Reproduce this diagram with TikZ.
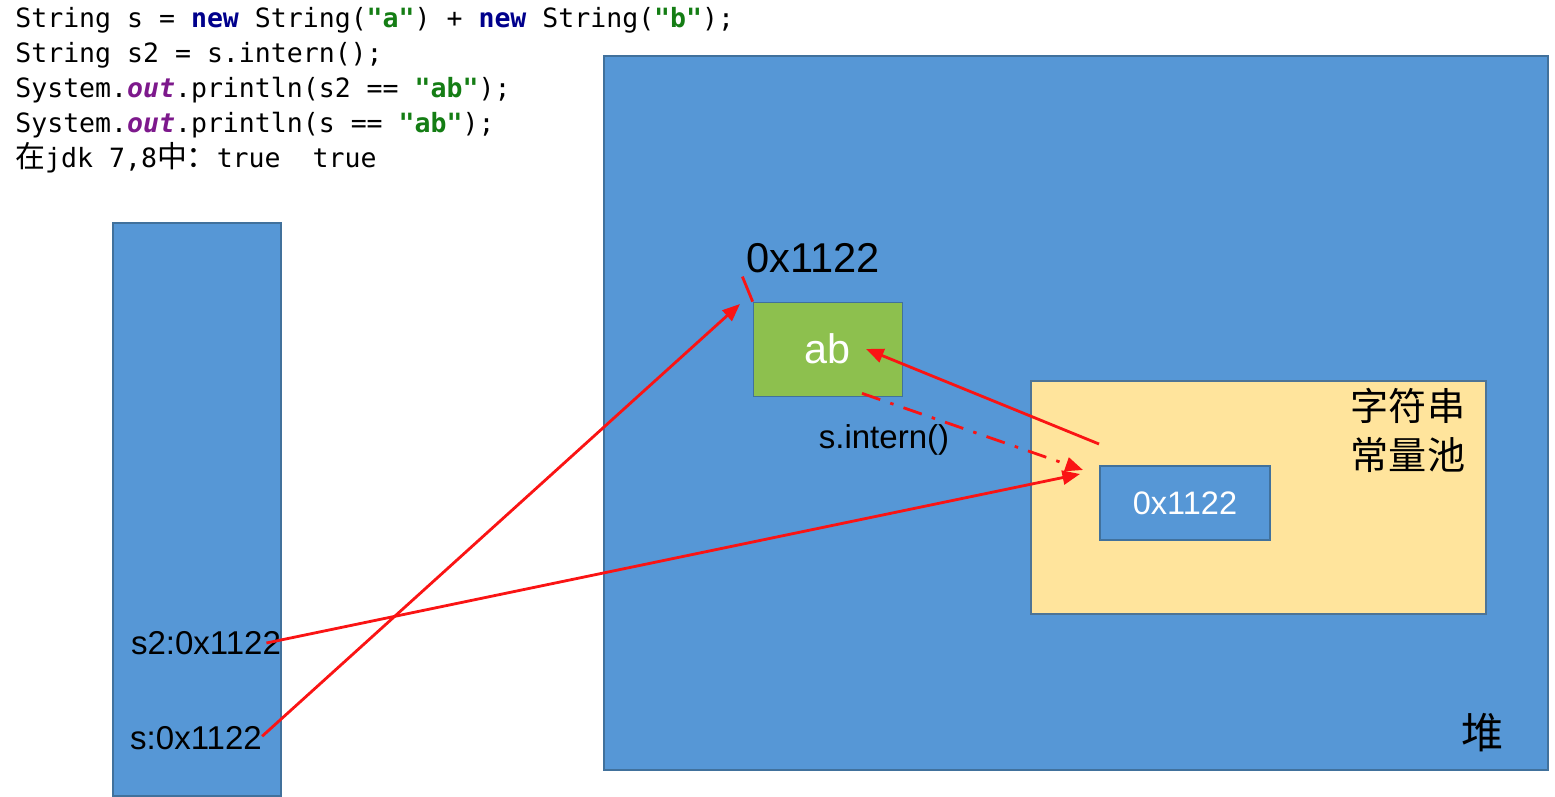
\documentclass[tikz,border=0pt]{standalone}
\usepackage{fontspec}
\setmainfont{Liberation Sans}
\newfontfamily\cjk{Noto Sans CJK SC}
\newfontfamily\codefont{DejaVu Sans Mono}
\usetikzlibrary{arrows.meta, positioning}

\definecolor{heapblue}{RGB}{86,151,214}
\definecolor{edgeblue}{RGB}{65,113,156}
\definecolor{strgreen}{RGB}{141,192,78}
\definecolor{poolyellow}{RGB}{255,228,156}
\definecolor{kwnavy}{RGB}{0,0,140}
\definecolor{litgreen}{RGB}{20,125,20}
\definecolor{fldpurple}{RGB}{125,25,140}
\definecolor{refred}{RGB}{250,20,20}

\newcommand{\kw}[1]{\textcolor{kwnavy}{\bfseries #1}}
\newcommand{\lit}[1]{\textcolor{litgreen}{\bfseries #1}}
\newcommand{\fld}[1]{\textcolor{fldpurple}{\bfseries\itshape #1}}
\newcommand{\zh}[1]{{\cjk\fontsize{17}{20}\selectfont #1}}

\begin{document}
\begin{tikzpicture}[
  x=0.02cm, y=-0.02cm,
  >={Triangle[length=10pt,width=8pt]},
  area/.style={draw=edgeblue, fill=heapblue, rectangle, line width=0.8pt},
  strobj/.style={draw=edgeblue, fill=strgreen, rectangle, minimum width=2.98cm, minimum height=1.88cm, text=white, font=\fontsize{23.5}{28}\selectfont},
  pool/.style={draw=edgeblue!80!gray, fill=poolyellow, rectangle, line width=0.8pt, minimum width=9.1cm, minimum height=4.66cm},
  poolref/.style={area, minimum width=3.4cm, minimum height=1.48cm, text=white, font=\fontsize{18.5}{22}\selectfont},
  lbl/.style={inner sep=0pt, font=\fontsize{18.8}{22}\selectfont},
  codeline/.style={anchor=base west, inner sep=0pt, font=\codefont\fontsize{15.1}{19.8}\selectfont},
  ref/.style={->, draw=refred, line width=1.6pt}
]
  \useasboundingbox (0,0) rectangle (1555,797);

  % Codigo de ejemplo
  \node[codeline] (l1) at (15,28) {String s = \kw{new} String(\lit{"a"}) + \kw{new} String(\lit{"b"});};
  \node[codeline] (l2) at (15,63) {String s2 = s.intern();};
  \node[codeline] (l3) at (15,98) {System.\fld{out}.println(s2 == \lit{"ab"});};
  \node[codeline] (l4) at (15,133) {System.\fld{out}.println(s == \lit{"ab"});};
  \node[codeline] (l5) at (15,168) {\zh{在}jdk 7,8\zh{中：}true\ \ true};

  % Pila y montón
  \node[area, minimum width=3.36cm, minimum height=11.46cm] (stack) at (197,509.5) {};
  \node[area, minimum width=18.88cm, minimum height=14.28cm] (heap) at (1076,413) {};
  \node[lbl, font=\cjk\fontsize{24}{28}\selectfont] (heapname) at (1483,733) {堆};

  % Objeto String en el montón
  \node[strobj] (ab) at (827.5,349) {ab};
  \node[lbl, font=\fontsize{23.7}{28}\selectfont] (addr) at (813,258) {0x1122};

  % Pool de constantes
  \node[pool] (pool) at (1258.5,497.5) {};
  \node[poolref] (inner) at (1185,503) {0x1122};
  \node[lbl, align=center, font=\cjk\fontsize{21.7}{28}\selectfont] (poolname) at (1408,430) {字符串\\常量池};

  % Variables locales
  \node[lbl] (s2ref) at (206,643) {s2:0x1122};
  \node[lbl] (sref) at (196,738) {s:0x1122};
  \node[lbl] (intern) at (884,440) {s.intern()};

  % Extremos libres de las flechas
  \coordinate (abpin) at (740,304);
  \coordinate (s2pin) at (1080,474);
  \coordinate (internpin) at (1083,470);
  \coordinate (poolfrom) at (1099,444);

  % Referencias
  \draw[ref] ([yshift=1pt]sref.east) -- (abpin);
  \draw[ref] ([xshift=-8.5pt]s2ref.east) -- (s2pin);
  \draw[ref] (poolfrom) -- ([xshift=0.77cm]ab.center);
  \draw[ref, dash pattern=on 11pt off 6pt on 2pt off 6pt] ([xshift=0.69cm,yshift=0.06cm]ab.south) -- (internpin);
  \draw[draw=refred, line width=1.6pt] ([xshift=-2pt,yshift=-2pt]addr.south west) -- (ab.north west);

\end{tikzpicture}
\end{document}
